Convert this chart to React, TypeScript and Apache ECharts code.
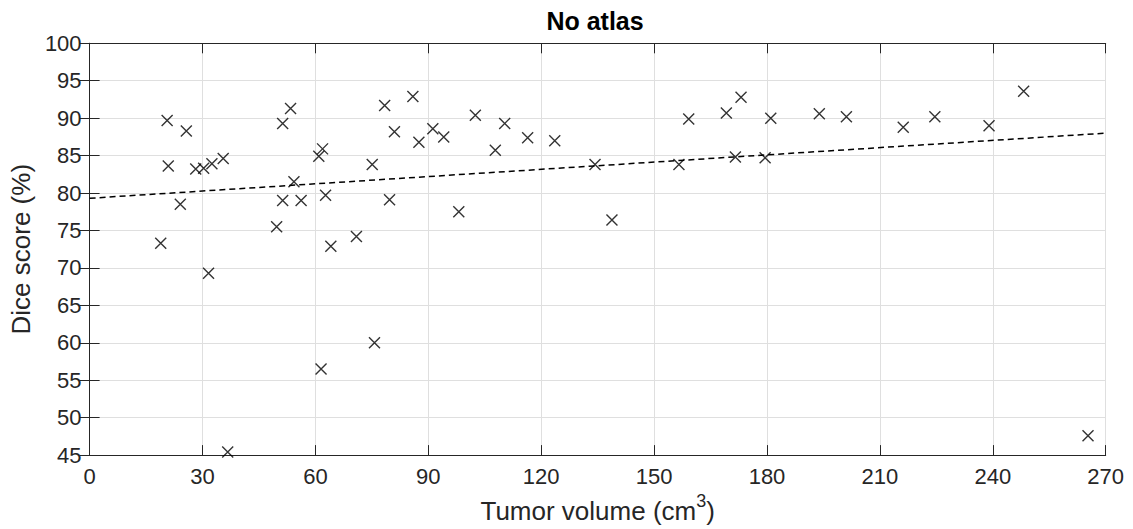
import React, { useEffect, useRef } from "react";
import * as echarts from "echarts";

const volumes: number[] = [
  18.9, 20.6, 20.9, 25.7, 24.1, 28.2, 30.3, 32.5, 35.5, 31.6, 36.7, 61.5, 75.7, 64.1,
  49.7, 51.3, 53.4, 51.3, 54.3, 56.2, 60.9, 61.9, 62.7, 70.9, 75.1, 78.4, 85.9, 81.0,
  79.7, 87.5, 91.2, 94.1, 98.1, 102.5, 107.8, 110.3, 116.4, 123.6, 134.3, 138.8, 156.6,
  159.2, 169.2, 171.6, 173.1, 179.5, 181.0, 193.9, 201.1, 216.2, 224.6, 239.0, 248.2, 265.3,
];
const diceScores: number[] = [
  73.3, 89.7, 83.6, 88.3, 78.5, 83.2, 83.3, 83.9, 84.6, 69.3, 45.4, 56.5, 60.0, 72.9,
  75.5, 89.3, 91.3, 79.0, 81.5, 79.0, 84.9, 85.9, 79.7, 74.2, 83.8, 91.7, 92.9, 88.2,
  79.1, 86.8, 88.6, 87.5, 77.5, 90.4, 85.7, 89.3, 87.4, 87.0, 83.8, 76.4, 83.8,
  89.9, 90.7, 84.8, 92.8, 84.7, 90.0, 90.6, 90.2, 88.8, 90.2, 89.0, 93.6, 47.6,
];
const trendX: number[] = [0, 270];
const trendY: number[] = [79.3, 88.0];

const title = "No atlas";
const yTitle = "Dice score (%)";

const FONT = "'Liberation Sans', Arial, Helvetica, sans-serif";
const AX = "#262626";
const GRID = "#dfdfdf";

export default function App() {
  const ref = useRef<HTMLDivElement>(null);
  useEffect(() => {
    if (!ref.current) return;
    const chart = echarts.init(ref.current, undefined, { renderer: "svg" });
    const pts = volumes.map((v, i) => [v, diceScores[i]]);
    const line = trendX.map((v, i) => [v, trendY[i]]);
    const axisCommon = {
      axisLine: { show: true, lineStyle: { color: AX, width: 1 } },
      axisTick: { show: true, inside: true, length: 10, lineStyle: { color: AX, width: 1 } },
    };
    chart.setOption({
      animation: false,
      backgroundColor: "#ffffff",
      graphic: [
        {
          type: "text",
          x: 595,
          y: 33,
          style: {
            text: title,
            fontFamily: FONT,
            fontSize: 25,
            fontWeight: "bold",
            fill: "#000",
            textAlign: "center",
            textVerticalAlign: "bottom",
          },
        },
      ],
      grid: { left: 84.5, right: 27.3, top: 43.3, bottom: 69, containLabel: false },
      xAxis: [
        {
          type: "value",
          min: 0,
          max: 270,
          interval: 30,
          position: "bottom",
          ...axisCommon,
          axisLabel: { color: AX, fontFamily: FONT, fontSize: 22, margin: 10 },
          splitLine: { show: true, lineStyle: { color: GRID, width: 1 } },
          name: "{a|Tumor volume (cm}{s|3}{a|)}",
          nameLocation: "middle",
          nameGap: 35,
          nameTextStyle: {
            rich: {
              a: { fontFamily: FONT, fontSize: 26, color: AX, lineHeight: 32, verticalAlign: "bottom" },
              s: { fontFamily: FONT, fontSize: 18, color: AX, lineHeight: 32, verticalAlign: "top" },
            },
          },
        },
        {
          type: "value",
          min: 0,
          max: 270,
          interval: 30,
          position: "top",
          ...axisCommon,
          axisLabel: { show: false },
          splitLine: { show: false },
        },
      ],
      yAxis: [
        {
          type: "value",
          min: 45,
          max: 100,
          interval: 5,
          position: "left",
          ...axisCommon,
          axisLabel: { color: AX, fontFamily: FONT, fontSize: 22, margin: 8 },
          splitLine: { show: true, lineStyle: { color: GRID, width: 1 } },
          name: yTitle,
          nameLocation: "middle",
          nameGap: 51,
          nameTextStyle: { fontFamily: FONT, fontSize: 26, color: AX },
        },
        {
          type: "value",
          min: 45,
          max: 100,
          interval: 5,
          position: "right",
          ...axisCommon,
          axisLabel: { show: false },
          splitLine: { show: false },
        },
      ],
      series: [
        {
          type: "line",
          data: line,
          xAxisIndex: 0,
          yAxisIndex: 0,
          showSymbol: false,
          symbol: "none",
          lineStyle: { color: "#000", width: 1.5, type: [6, 4] },
          z: 3,
        },
        {
          type: "scatter",
          data: pts,
          xAxisIndex: 0,
          yAxisIndex: 0,
          symbol: "path://M0,0L10,10M10,0L0,10",
          symbolSize: 11,
          itemStyle: { color: "none", borderColor: "#000", borderWidth: 1.4 },
          z: 4,
        },
      ],
    });
    return () => chart.dispose();
  }, []);
  return (
    <div
      ref={ref}
      style={{ position: "fixed", left: 0, top: 0, width: 1133, height: 529, background: "#fff" }}
    />
  );
}
